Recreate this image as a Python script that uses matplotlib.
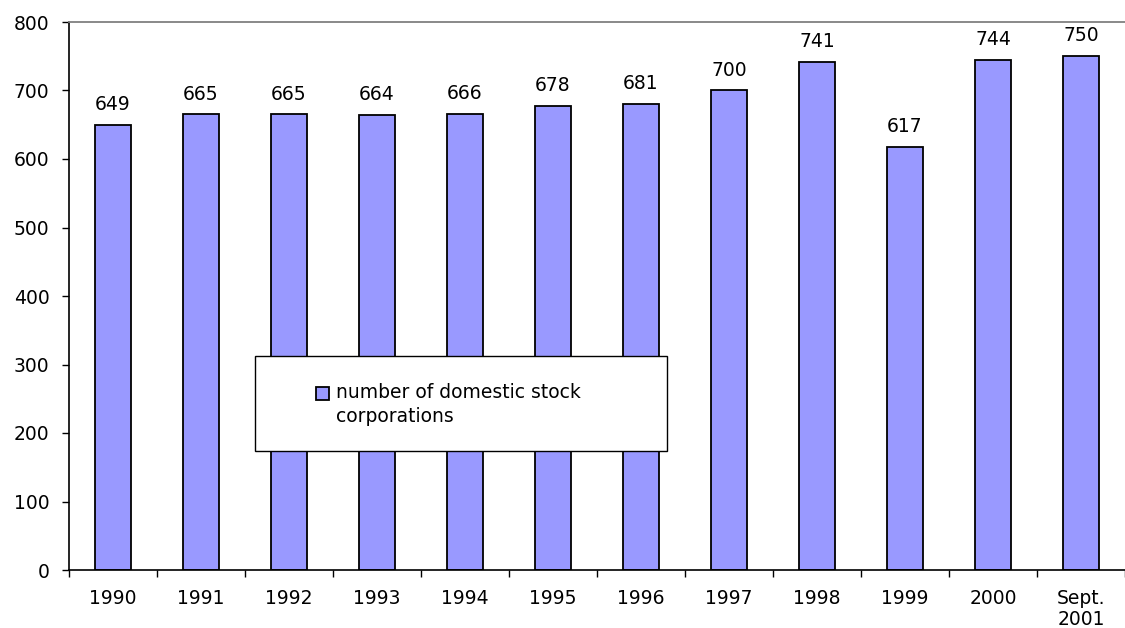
import matplotlib.pyplot as plt
from matplotlib.patches import Rectangle
from matplotlib.legend_handler import HandlerPatch
from matplotlib.container import BarContainer
import numpy as np

plt.rcParams['font.family'] = ['DejaVu Sans']

years = ['1990', '1991', '1992', '1993', '1994', '1995', '1996',
         '1997', '1998', '1999', '2000', 'Sept.\n2001']
corporations = [649, 665, 665, 664, 666, 678, 681, 700, 741, 617, 744, 750]
y_ticks = [0, 100, 200, 300, 400, 500, 600, 700, 800]

FS = 13.5

fig = plt.figure(figsize=(11.25, 6.28), dpi=100)
ax = fig.add_axes([69 / 1125, 1 - 570 / 628, 1056 / 1125, 548 / 628])

x = np.arange(len(years))
ax.bar(x, corporations, width=0.4, color='#9999FF', edgecolor='black',
       linewidth=1.3, label='number of domestic stock\ncorporations', zorder=2)

for xi, v in zip(x, corporations):
    ax.text(xi, v + 16, str(v), ha='center', va='bottom', fontsize=FS)

ax.set_xlim(-0.5, len(years) - 0.5)
ax.set_ylim(0, 800)
ax.set_yticks(y_ticks)
ax.tick_params(axis='y', labelsize=FS, length=5, width=1, pad=9)

# ticks between categories, labels under bars
ax.set_xticks(np.arange(len(years) + 1) - 0.5)
ax.set_xticklabels([])
ax.tick_params(axis='x', which='major', length=5, width=1, direction='out')
ax.set_xticks(x, minor=True)
ax.set_xticklabels(years, minor=True, fontsize=FS, linespacing=1.1)
ax.tick_params(axis='x', which='minor', length=0, pad=14)

ax.spines['right'].set_visible(False)
ax.spines['top'].set_color('#808080')
ax.spines['top'].set_linewidth(1.3)
ax.spines['left'].set_linewidth(1.2)
ax.spines['bottom'].set_linewidth(1.2)


# keep the legend swatch level with the first text line
def top_swatch(legend, orig_handle, xdescent, ydescent, width, height, fontsize):
    return Rectangle((-xdescent, -ydescent + 0.62 * fontsize), width, height)


swatch = HandlerPatch(patch_func=top_swatch,
                      update_func=lambda h, o: h.update_from(o.patches[0]))

# legend box
box = Rectangle(((255 - 69) / 1056, (570 - 451) / 548), 412 / 1056, 95 / 548,
                transform=ax.transAxes, facecolor='white', edgecolor='black',
                linewidth=1.0, zorder=4)
ax.add_patch(box)
leg = ax.legend(loc='upper left', bbox_to_anchor=((316 - 69) / 1056, (570 - 383) / 548),
                fontsize=FS, frameon=False, borderpad=0, handlelength=0.7,
                handleheight=0.7, handletextpad=0.35, borderaxespad=0,
                handler_map={BarContainer: swatch})
for t in leg.get_texts():
    t.set_linespacing(1.3)
leg.set_zorder(5)

fig.savefig('out.png', dpi=100)
